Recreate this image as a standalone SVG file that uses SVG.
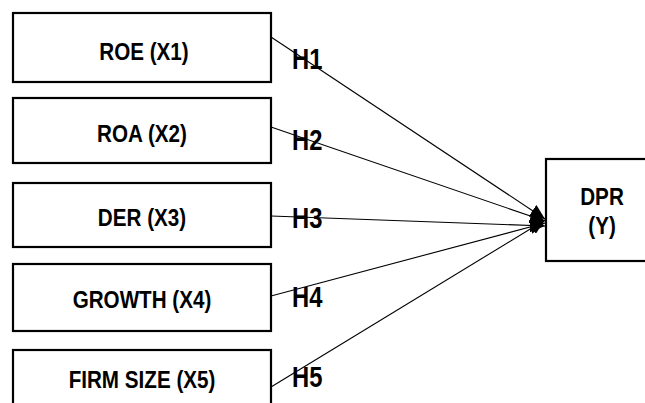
<svg xmlns="http://www.w3.org/2000/svg" width="645" height="403" viewBox="0 0 645 403">
<style>
.box{fill:#fff;stroke:#000;stroke-width:2.2}
.lbl{font-family:"Liberation Sans",Arial,sans-serif;font-weight:bold;font-size:24px;fill:#000;text-anchor:middle}
.h{font-family:"Liberation Sans",Arial,sans-serif;font-weight:bold;font-size:29px;fill:#000}
.con{stroke:#000;stroke-width:1.1;fill:none;marker-end:url(#arr)}
</style>
<defs>
<marker id="arr" markerUnits="userSpaceOnUse" markerWidth="16" markerHeight="14" refX="15" refY="7" orient="auto">
<path d="M0,0 L15,7 L0,14 Z" fill="#000"/>
</marker>
</defs>
<rect width="645" height="403" fill="#fff"/>
<g id="connectors">
<line class="con" x1="271" y1="37" x2="545" y2="219"/>
<line class="con" x1="271" y1="127" x2="545" y2="221"/>
<line class="con" x1="271" y1="216" x2="545" y2="226"/>
<line class="con" x1="271" y1="296" x2="545" y2="223"/>
<line class="con" x1="271" y1="387" x2="545" y2="220"/>
</g>
<g id="n1"><rect class="box" x="13" y="13" width="258" height="69"/><text class="lbl" transform="translate(144,60) scale(0.86,1)">ROE (X1)</text></g>
<g id="n2"><rect class="box" x="13" y="98" width="258" height="65"/><text class="lbl" transform="translate(142,142) scale(0.86,1)">ROA (X2)</text></g>
<g id="n3"><rect class="box" x="13" y="183" width="258" height="64"/><text class="lbl" transform="translate(142,226) scale(0.86,1)">DER (X3)</text></g>
<g id="n4"><rect class="box" x="13" y="264" width="258" height="67"/><text class="lbl" transform="translate(142,308) scale(0.86,1)">GROWTH (X4)</text></g>
<g id="n5"><rect class="box" x="13" y="350" width="258" height="70"/><text class="lbl" transform="translate(142,388) scale(0.86,1)">FIRM SIZE (X5)</text></g>
<g id="ny"><rect class="box" x="546" y="159" width="110" height="102"/><text class="lbl" transform="translate(602,205) scale(0.86,1)">DPR</text><text class="lbl" transform="translate(602,234) scale(0.86,1)">(Y)</text></g>
<g id="labels">
<text class="h" transform="translate(292,69) scale(0.82,1)">H1</text>
<text class="h" transform="translate(292,150) scale(0.82,1)">H2</text>
<text class="h" transform="translate(292,228) scale(0.82,1)">H3</text>
<text class="h" transform="translate(292,307) scale(0.82,1)">H4</text>
<text class="h" transform="translate(292,387) scale(0.82,1)">H5</text>
</g>
</svg>
